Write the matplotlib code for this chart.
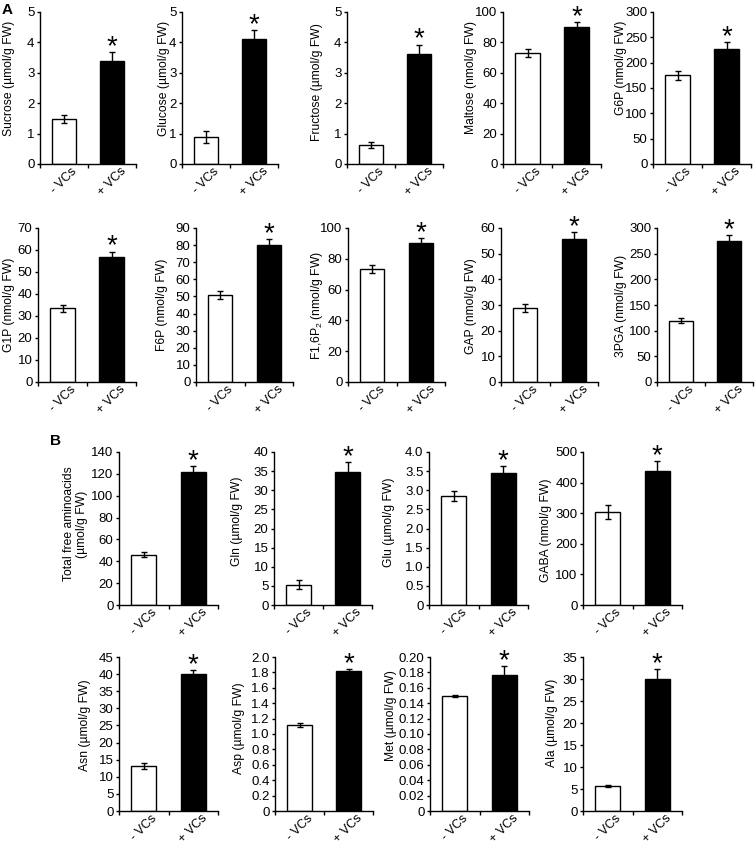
import numpy as np
import matplotlib
matplotlib.use("Agg")
import matplotlib.pyplot as plt
from matplotlib.ticker import FuncFormatter, FixedLocator

plt.rcParams['font.family'] = ['Liberation Sans', 'DejaVu Sans']
plt.rcParams['mathtext.fontset'] = 'custom'
plt.rcParams['mathtext.rm'] = 'Liberation Sans'
plt.rcParams['mathtext.it'] = 'Liberation Sans:italic'
plt.rcParams['mathtext.default'] = 'regular'

groups = ["- VCs", "+ VCs"]

# ---------------- Panel A ----------------
ylabels_A = ["Sucrose (µmol/g FW)", "Glucose (µmol/g FW)", "Fructose (µmol/g FW)",
             "Maltose (nmol/g FW)", "G6P (nmol/g FW)",
             "G1P (nmol/g FW)", "F6P (nmol/g FW)", r"F1,6P$_2$ (nmol/g FW)",
             "GAP (nmol/g FW)", "3PGA (nmol/g FW)"]
minus_A = [1.47, 0.89, 0.64, 73.0, 175, 33.5, 51.0, 73.5, 28.8, 119.5]
minus_err_A = [0.13, 0.19, 0.10, 2.5, 9, 1.5, 2.4, 2.5, 1.4, 5.5]
plus_A = [3.39, 4.12, 3.62, 90.0, 227, 56.6, 79.8, 90.0, 55.7, 274]
plus_err_A = [0.29, 0.29, 0.31, 3.5, 14, 2.7, 3.8, 3.5, 2.6, 13]
ymax_A = [5, 5, 5, 100, 300, 70, 90, 100, 60, 300]
ystep_A = [1, 1, 1, 20, 50, 10, 10, 20, 10, 50]
ydec_A = [0, 0, 0, 0, 0, 0, 0, 0, 0, 0]

# ---------------- Panel B ----------------
ylabels_B = ["Total free aminoacids\n(µmol/g FW)", "Gln (µmol/g FW)", "Glu (µmol/g FW)",
             "GABA (nmol/g FW)", "Asn (µmol/g FW)", "Asp (µmol/g FW)",
             "Met (µmol/g FW)", "Ala (µmol/g FW)"]
minus_B = [46.2, 5.3, 2.84, 304, 13.2, 1.115, 0.149, 5.65]
minus_err_B = [2.1, 1.2, 0.13, 22, 0.8, 0.025, 0.0012, 0.15]
plus_B = [121.5, 34.7, 3.44, 438, 39.9, 1.813, 0.176, 29.9]
plus_err_B = [5.8, 2.6, 0.19, 31, 1.2, 0.027, 0.0117, 2.3]
ymax_B = [140, 40, 4.0, 500, 45, 2.0, 0.20, 35]
ystep_B = [20, 5, 0.5, 100, 5, 0.2, 0.02, 5]
ydec_B = [0, 0, 1, 0, 0, 1, 2, 0]

# ---------------- layout (pixels) ----------------
W, H = 756, 844
# (left, top, width, bottom, label_right_x, label_center_y)
layout_A = [
    (40, 12, 96, 164, 15, 78), (182, 12, 96, 164, 170, 78), (347, 12, 96, 164, 323, 82),
    (503, 12, 98, 164, 477, 78), (653, 12, 98, 164, 627, 68),
    (38, 228, 98, 382, 15, 305), (196, 228, 97, 382, 168, 305), (348, 228, 97, 382, 325, 306),
    (501, 228, 97, 382, 477, 306), (657, 228, 96, 382, 627, 306),
]
layout_B = [
    (119, 452, 99, 605, 88, 524), (274, 452, 98, 605, 243, 521),
    (429, 452, 99, 605, 395, 522), (583, 452, 99, 605, 552, 530),
    (119, 657, 99, 811, 91, 725), (275, 657, 98, 811, 245, 728),
    (430, 657, 99, 811, 397, 716), (583, 657, 99, 811, 558, 723),
]

fig = plt.figure(figsize=(W / 100, H / 100), dpi=100)


def make_fmt(dec):
    def f(v, _):
        if abs(v) < 1e-12:
            return "0"
        return f"{v:.{dec}f}"
    return FuncFormatter(f)


def panel(lay, m, me, p, pe, ymax, step, dec, ylabel):
    left, top, w, bottom, lx, ly = lay
    ax = fig.add_axes([left / W, 1 - bottom / H, w / W, (bottom - top) / H])
    x = [0.5, 1.5]
    ax.bar(x, [m, p], width=0.5, color=['white', 'black'], edgecolor='black',
           linewidth=1.0, zorder=2)
    ax.errorbar(x, [m, p], yerr=[me, pe], fmt='none', ecolor='black',
                elinewidth=1.0, capsize=2.5, capthick=1.0, zorder=3)
    ax.annotate('*', xy=(1.5, p + pe), xytext=(0, -1.5), textcoords='offset points',
                ha='center', va='baseline', fontsize=20, fontweight='light')
    ax.set_xlim(0, 2)
    ax.set_ylim(0, ymax)
    ax.set_yticks(np.arange(0, ymax + step / 2, step))
    ax.yaxis.set_major_formatter(make_fmt(dec))
    ax.set_xticks(x)
    ax.set_xticklabels(groups, rotation=45, ha='center', va='top')
    ax.xaxis.set_minor_locator(FixedLocator([0, 1, 2]))
    ax.tick_params(axis='x', which='major', length=0, pad=1, labelsize=9)
    ax.tick_params(axis='x', which='minor', length=3, width=1, direction='out')
    ax.tick_params(axis='y', length=2.5, width=1, pad=1.5, labelsize=9.5)
    for s in ('top', 'right'):
        ax.spines[s].set_visible(False)
    for s in ('left', 'bottom'):
        ax.spines[s].set_linewidth(1.0)
    ax.set_ylabel(ylabel, fontsize=8.7, linespacing=1.1)
    ax.yaxis.set_label_coords((lx - left) / w, (bottom - ly) / (bottom - top))
    return ax


for i in range(10):
    panel(layout_A[i], minus_A[i], minus_err_A[i], plus_A[i], plus_err_A[i],
          ymax_A[i], ystep_A[i], ydec_A[i], ylabels_A[i])
for i in range(8):
    panel(layout_B[i], minus_B[i], minus_err_B[i], plus_B[i], plus_err_B[i],
          ymax_B[i], ystep_B[i], ydec_B[i], ylabels_B[i])

fig.text(2 / W, 1 - 2.5 / H, "A", fontsize=11, fontweight='bold', va='top', ha='left')
fig.text(50 / W, 1 - 434 / H, "B", fontsize=11, fontweight='bold', va='top', ha='left')

fig.savefig("out.png", dpi=100)
